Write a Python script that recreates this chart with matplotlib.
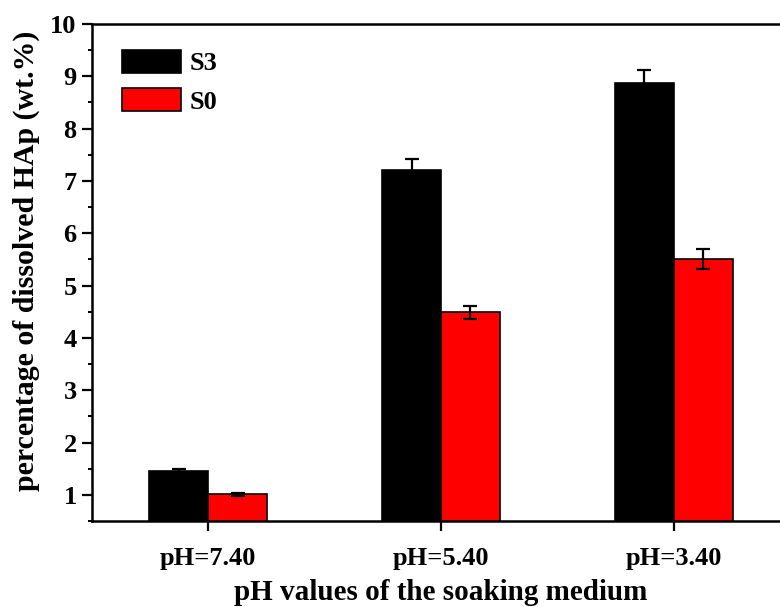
import numpy as np
import matplotlib
matplotlib.use("Agg")
import matplotlib.pyplot as plt
from matplotlib.ticker import MultipleLocator

plt.rcParams['font.family'] = ['Liberation Serif', 'DejaVu Serif']
plt.rcParams['font.weight'] = 'bold'

# Data
categories = ['pH=7.40', 'pH=5.40', 'pH=3.40']
s3_values = [1.46, 7.20, 8.88]
s3_errors = [0.04, 0.21, 0.25]
s0_values = [1.01, 4.49, 5.50]
s0_errors = [0.03, 0.12, 0.19]

fig = plt.figure(figsize=(7.8, 6.07), dpi=100)
ax = fig.add_axes([92 / 780, 1 - 521 / 607, (790 - 92) / 780, (521 - 24) / 607])

x = np.arange(len(categories))
w = 0.253
err_kw = dict(ecolor='black', elinewidth=1.6, capsize=5, capthick=1.6)
ax.bar(x - w / 2, s3_values, w, yerr=s3_errors, color='black', edgecolor='black',
       linewidth=1.2, label='S3', error_kw=err_kw, zorder=2)
ax.bar(x + w / 2, s0_values, w, yerr=s0_errors, color='#ff0000', edgecolor='black',
       linewidth=1.2, label='S0', error_kw=err_kw, zorder=2)

ax.set_xlim(-0.5, 2.5)
ax.set_ylim(0.5, 10)
ax.set_xticks(x)
ax.set_xticklabels(categories)
ax.yaxis.set_major_locator(MultipleLocator(1))
ax.yaxis.set_minor_locator(MultipleLocator(0.5))
ax.set_yticks(range(1, 11))

for s in ax.spines.values():
    s.set_linewidth(1.8)
ax.tick_params(axis='both', which='major', direction='out', length=7, width=1.6,
               labelsize=19)
ax.tick_params(axis='y', which='minor', direction='out', length=3, width=1.4)
ax.tick_params(axis='x', pad=12)
ax.tick_params(axis='y', pad=4)

ax.set_xlabel('pH values of the soaking medium', fontsize=21, fontweight='bold',
              labelpad=6)
ax.set_ylabel('percentage of dissolved HAp (wt.%)', fontsize=21.5, fontweight='bold')
ax.yaxis.set_label_coords(-0.075, 0.523)

ax.legend(loc='upper left', bbox_to_anchor=(0.043, 0.948), frameon=False,
          fontsize=19, handlelength=2.23, handleheight=0.95, labelspacing=0.5,
          handletextpad=0.35, borderaxespad=0, borderpad=0)

fig.savefig('out.png', dpi=100)
